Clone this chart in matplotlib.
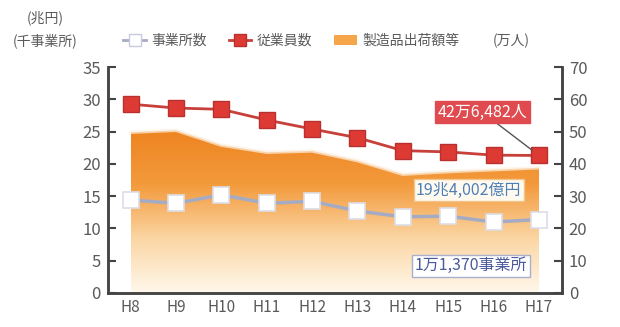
import numpy as np
import matplotlib.pyplot as plt
from matplotlib.lines import Line2D
from matplotlib.patches import Patch
from matplotlib.colors import LinearSegmentedColormap

plt.rcParams['font.family'] = ['Noto Sans CJK JP', 'DejaVu Sans']

years = ['H8', 'H9', 'H10', 'H11', 'H12', 'H13', 'H14', 'H15', 'H16', 'H17']
shipments = [24.9, 25.2, 22.9, 21.8, 22.0, 20.5, 18.4, 18.8, 19.1, 19.4]      # 兆円
establishments = [14.4, 13.9, 15.2, 13.9, 14.2, 12.7, 11.8, 11.9, 11.0, 11.37]  # 千事業所
employees = [58.5, 57.3, 56.9, 53.6, 50.8, 48.1, 44.1, 43.7, 42.7, 42.6]       # 万人

gray = '#5a5a5a'
x = np.arange(len(years))

fig = plt.figure(figsize=(6.2, 3.27), dpi=100)
ax = fig.add_axes([0.174, 0.104, 0.732, 0.691])
ax2 = ax.twinx()

# shipments area with gradient
poly = ax.fill_between(x, shipments, 0, color='none', lw=0)
cmap = LinearSegmentedColormap.from_list('og', ['#fff8ec', '#fbd6a4', '#f39a3c', '#ee8420'])
grad = np.linspace(0, 1, 256).reshape(-1, 1)
im = ax.imshow(grad, extent=[x[0], x[-1], 0, max(shipments)], origin='lower',
               cmap=cmap, aspect='auto', zorder=1)
im.set_clip_path(poly.get_paths()[0], transform=ax.transData)
ax.plot(x, shipments, color='#fdf1e2', lw=2.5, zorder=1.5, alpha=0.7)

# establishments
ax.plot(x, establishments, color='#a6abc4', lw=2.5, marker='s', ms=11,
        mfc='white', mec='#dcdde6', mew=1.2, zorder=3)

# employees
ax2.plot(x, employees, color='#c8403a', lw=2, marker='s', ms=11,
         mfc='#dd3a34', mec='#b83030', mew=1, zorder=3)

ax.set_xlim(-0.5, 9.5)
ax.set_ylim(0, 35)
ax2.set_ylim(0, 70)
ax.set_yticks(range(0, 36, 5))
ax2.set_yticks(range(0, 71, 10))
ax.set_xticks(x)
ax.set_xticklabels(years)

for a in (ax, ax2):
    a.spines['top'].set_visible(False)
    for s in ('left', 'right', 'bottom'):
        a.spines[s].set_color('#444444')
        a.spines[s].set_linewidth(1.8)
    a.tick_params(axis='y', direction='in', length=6, width=1.5, color='#444444',
                  labelsize=12, labelcolor=gray, pad=5)
    a.tick_params(axis='x', length=0, labelsize=11, labelcolor=gray, pad=4)
ax.set_zorder(ax2.get_zorder() - 1)
ax2.patch.set_visible(False)

# annotations
ax2.annotate('42万6,482人', xy=(x[-1], employees[-1]), xytext=(7.75, 56.0),
             ha='center', va='center', fontsize=11.5, color='white',
             bbox=dict(boxstyle='square,pad=0.15', fc='#e04b4f', ec='#e04b4f'),
             arrowprops=dict(arrowstyle='-', color='#555555', lw=1,
                             shrinkA=0, shrinkB=6), zorder=5)
ax.text(7.45, 15.9, '19兆4,002億円', ha='center', va='center',
        fontsize=11.5, color='#4d7fb8', zorder=5,
        bbox=dict(boxstyle='square,pad=0.15', fc='#fffaf0', ec='#f2c48c', lw=1))
ax.text(7.5, 4.2, '1万1,370事業所', ha='center', va='center',
        fontsize=11.5, color='#4a5a9a', zorder=5,
        bbox=dict(boxstyle='square,pad=0.15', fc='white', ec='#aab0cc', lw=1))

# unit labels
fig.text(0.073, 0.945, '(兆円)', ha='center', va='center', fontsize=10, color=gray)
fig.text(0.073, 0.875, '(千事業所)', ha='center', va='center', fontsize=10, color=gray)
fig.text(0.825, 0.875, '(万人)', ha='center', va='center', fontsize=10, color=gray)

handles = [
    Line2D([], [], color='#a6abc4', lw=2, marker='s', ms=9, mfc='white', mec='#c8cbe0'),
    Line2D([], [], color='#c8403a', lw=2, marker='s', ms=9, mfc='#dd3a34', mec='#b83030'),
    Patch(fc='#f5a54a', ec='none'),
]
fig.legend(handles, ['事業所数', '従業員数', '製造品出荷額等'], loc='center',
           bbox_to_anchor=(0.47, 0.875), ncol=3, frameon=False, fontsize=10,
           handlelength=1.6, handletextpad=0.4, columnspacing=1.6, labelcolor=gray)

fig.savefig('out.png', dpi=100)
